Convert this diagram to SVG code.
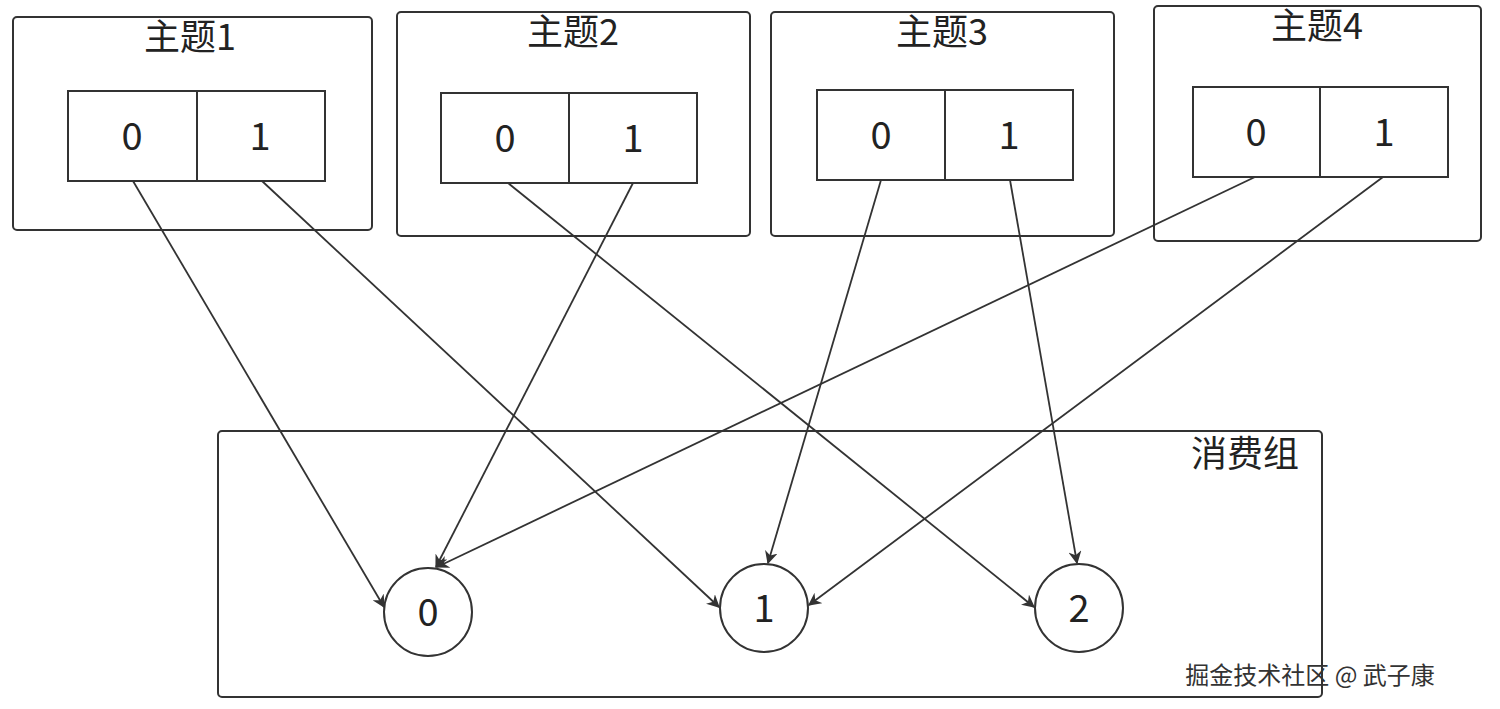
<svg xmlns="http://www.w3.org/2000/svg" width="1500" height="709" viewBox="0 0 1500 709">
<style>
.b{fill:#fff;stroke:#333;stroke-width:2}
text{font-family:"Noto Sans CJK SC","Liberation Sans",sans-serif;fill:#222;text-anchor:middle}
.t{font-size:36px}
.n{font-size:38px}
.c line{stroke:#333;stroke-width:1.8;marker-end:url(#a)}
</style>
<defs><marker id="a" viewBox="0 0 10 10" refX="9" refY="5" markerWidth="13" markerHeight="13" orient="auto" markerUnits="userSpaceOnUse"><path d="M0,0L10,5L0,10L3,5z" fill="#333"/></marker></defs>
<rect width="1500" height="709" fill="#fff"/>
<g id="t1"><rect class="b" x="13" y="17" width="359" height="213" rx="4"/><text class="t" x="190" y="50">主题1</text><rect class="b" x="68" y="91" width="257" height="90"/><line x1="197" y1="91" x2="197" y2="181" stroke="#333" stroke-width="2"/><text class="n" x="132" y="150">0</text><text class="n" x="260" y="150">1</text></g>
<g id="t2"><rect class="b" x="397" y="12" width="353" height="224" rx="4"/><text class="t" x="573" y="45">主题2</text><rect class="b" x="441" y="93" width="256" height="90"/><line x1="569" y1="93" x2="569" y2="183" stroke="#333" stroke-width="2"/><text class="n" x="505" y="152">0</text><text class="n" x="633" y="152">1</text></g>
<g id="t3"><rect class="b" x="771" y="12" width="343" height="224" rx="4"/><text class="t" x="942" y="45">主题3</text><rect class="b" x="817" y="90" width="256" height="90"/><line x1="945" y1="90" x2="945" y2="180" stroke="#333" stroke-width="2"/><text class="n" x="881" y="149">0</text><text class="n" x="1009" y="149">1</text></g>
<g id="t4"><rect class="b" x="1154" y="6" width="327" height="235" rx="4"/><text class="t" x="1317" y="39">主题4</text><rect class="b" x="1193" y="87" width="255" height="90"/><line x1="1320" y1="87" x2="1320" y2="177" stroke="#333" stroke-width="2"/><text class="n" x="1256" y="146">0</text><text class="n" x="1384" y="146">1</text></g>
<g id="cg"><rect class="b" x="218" y="431" width="1104" height="266" rx="4"/><text class="t" x="1245" y="467">消费组</text></g>
<g id="c0"><circle class="b" cx="428" cy="612" r="44"/><text class="n" x="428" y="626">0</text></g>
<g id="c1"><circle class="b" cx="764" cy="608" r="44"/><text class="n" x="764" y="622">1</text></g>
<g id="c2"><circle class="b" cx="1079" cy="608" r="44"/><text class="n" x="1079" y="622">2</text></g>
<g class="c">
<line x1="133" y1="181" x2="384" y2="607"/>
<line x1="262" y1="181" x2="719" y2="607"/>
<line x1="508" y1="183" x2="1034" y2="607"/>
<line x1="633" y1="183" x2="436" y2="567"/>
<line x1="881" y1="180" x2="768" y2="563"/>
<line x1="1010" y1="180" x2="1077" y2="563"/>
<line x1="1255" y1="177" x2="437" y2="567"/>
<line x1="1383" y1="177" x2="809" y2="605"/>
</g>
<text x="1310" y="684" style="font-size:24px;fill:#333">掘金技术社区 @ 武子康</text>
</svg>
